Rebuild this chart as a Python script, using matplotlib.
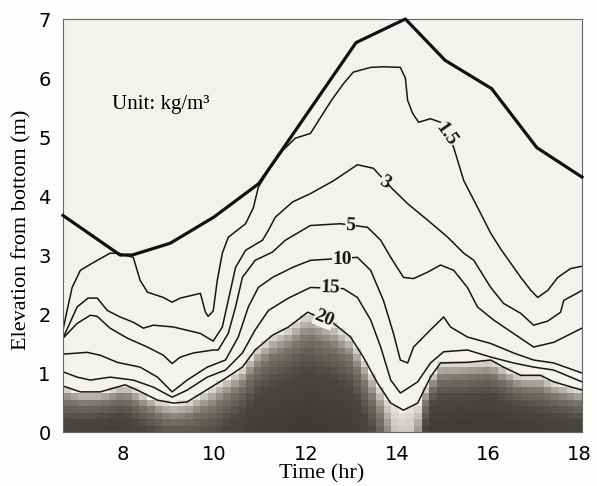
import numpy as np
import matplotlib.pyplot as plt
from matplotlib.colors import LinearSegmentedColormap

# water surface (thick line)
t_surf = [6.68, 7.93, 8.2, 9.03, 9.98, 10.97, 13.1, 14.18, 15.05, 16.07, 17.06, 18.05]
z_surf = [3.67, 3.0, 3.0, 3.2, 3.64, 4.21, 6.6, 7.0, 6.3, 5.82, 4.82, 4.32]

# iso-concentration lines (kg/m3)
t_1p5 = [6.68, 6.77, 6.88, 7.06, 7.34, 7.71, 7.89, 8.22, 8.37, 8.53, 8.88, 9.07, 9.25,
         9.69, 9.8, 9.86, 9.97, 10.06, 10.17, 10.3, 10.68, 10.85, 10.96, 11.18, 11.49,
         11.77, 12.1, 12.56, 12.82, 13.04, 13.42, 13.7, 14.07, 14.18, 14.23, 14.34, 14.47,
         14.73, 15.02, 15.24, 15.46, 15.76, 16.05, 16.27, 16.71, 16.93, 17.08, 17.3,
         17.52, 17.8, 18.05]
z_1p5 = [1.73, 2.06, 2.45, 2.74, 2.87, 3.03, 3.03, 2.96, 2.57, 2.37, 2.28, 2.2, 2.27,
         2.35, 2.03, 1.96, 2.05, 2.57, 3.03, 3.3, 3.53, 3.8, 4.15, 4.43, 4.77,
         4.98, 5.06, 5.62, 5.9, 6.1, 6.18, 6.19, 6.18, 6.0, 5.62, 5.4, 5.25,
         5.31, 5.23, 4.82, 4.26, 3.81, 3.37, 3.1, 2.62, 2.4, 2.28, 2.4,
         2.62, 2.77, 2.81]

t_3 = [6.68, 6.99, 7.23, 7.43, 7.65, 7.93, 8.22, 8.44, 8.66, 9.1, 9.69, 9.97, 10.17,
       10.3, 10.46, 10.68, 11.05, 11.18, 11.33, 11.71, 12.1, 12.61, 13.13, 13.48, 13.86,
       14.23, 14.67, 15.11, 15.46, 15.68, 16.05, 16.33, 16.71, 16.99, 17.3, 17.58,
       17.65, 18.05]
z_3 = [1.59, 2.12, 2.27, 2.27, 2.06, 1.95, 1.86, 1.76, 1.81, 1.78, 1.67, 1.54, 1.78,
       2.23, 2.79, 3.08, 3.25, 3.42, 3.64, 3.9, 4.04, 4.26, 4.53, 4.47, 4.15,
       3.87, 3.59, 3.3, 3.03, 2.91, 2.45, 2.18, 2.01, 1.81, 1.88, 2.03,
       2.23, 2.4]

t_5 = [6.68, 6.99, 7.28, 7.43, 7.71, 8.09, 8.53, 8.88, 9.07, 9.25, 9.54, 9.97, 10.08,
       10.3, 10.46, 10.61, 10.89, 11.27, 11.55, 12.1, 12.76, 13.35, 13.64, 13.86, 14.14,
       14.36, 14.67, 14.95, 15.24, 15.54, 15.76, 16.11, 16.55, 16.99, 17.43, 18.05]
z_5 = [1.59, 1.84, 1.98, 1.96, 1.76, 1.59, 1.44, 1.3, 1.16, 1.27, 1.34, 1.39, 1.39,
       1.67, 2.12, 2.62, 2.91, 3.05, 3.25, 3.5, 3.53, 3.47, 3.25, 2.96, 2.62,
       2.6, 2.71, 2.83, 2.74, 2.45, 2.12, 1.9, 1.67, 1.44, 1.52, 1.76]

t_10 = [6.68, 7.21, 7.5, 7.87, 8.37, 8.75, 9.07, 9.4, 9.84, 10.24, 10.52, 10.74, 10.96,
        11.27, 11.71, 12.1, 13.13, 13.42, 13.7, 13.92, 14.07, 14.23, 14.36, 14.73, 15.02,
        15.17, 15.54, 16.05, 16.55, 16.99, 17.43, 18.05]
z_10 = [1.32, 1.35, 1.3, 1.18, 1.1, 0.93, 0.68, 0.88, 1.1, 1.22, 1.61, 2.12, 2.45,
        2.62, 2.79, 2.91, 2.96, 2.74, 2.23, 1.67, 1.22, 1.17, 1.44, 1.73, 1.95,
        1.78, 1.61, 1.5, 1.34, 1.22, 1.17, 1.0]

t_15 = [6.68, 6.99, 7.28, 7.71, 8.22, 8.66, 9.07, 9.4, 9.84, 10.24, 10.61, 10.89, 11.18,
        11.62, 12.1, 12.82, 13.13, 13.42, 13.64, 13.86, 14.07, 14.45, 14.73, 15.02,
        15.54, 16.05, 16.55, 16.99, 17.43, 18.05]
z_15 = [1.02, 0.93, 0.88, 0.93, 0.88, 0.76, 0.59, 0.71, 0.93, 1.05, 1.34, 1.73, 2.06,
        2.27, 2.45, 2.43, 2.28, 1.9, 1.44, 0.88, 0.66, 0.85, 1.17, 1.36,
        1.39, 1.27, 1.17, 1.1, 1.05, 0.85]

t_20 = [6.68, 7.06, 7.5, 8.04, 8.31, 8.75, 9.1, 9.4, 9.8, 10.24, 10.61, 10.89, 11.27,
        11.62, 12.04, 12.61, 12.98, 13.26, 13.57, 13.86, 14.14, 14.45, 14.73, 14.95,
        15.54, 16.05, 16.33, 16.71, 17.14, 17.43, 18.05]
z_20 = [0.78, 0.68, 0.68, 0.8, 0.71, 0.54, 0.49, 0.51, 0.7, 0.91, 1.1, 1.39, 1.64,
        1.78, 2.03, 1.84, 1.61, 1.27, 0.83, 0.49, 0.37, 0.49, 0.93, 1.17,
        1.18, 1.22, 1.1, 0.96, 0.96, 0.85, 0.71]

# estimated concentration at the bed (drives the grey shading)
t_bed = [6.68, 8.0, 9.0, 10.0, 11.0, 12.0, 13.0, 13.5, 14.0, 14.4, 14.7, 16.0, 17.0, 18.05]
c_bed = [44, 46, 38, 40, 48, 50, 48, 40, 26, 27, 48, 50, 46, 44]

contours = [(t_1p5, z_1p5), (t_3, z_3), (t_5, z_5), (t_10, z_10), (t_15, z_15), (t_20, z_20)]

paper = '#f4f2ee'
serif = 'Liberation Serif'

fig = plt.figure(figsize=(5.97, 4.86), dpi=100, facecolor='#fcfcfb')
ax = fig.add_axes([63/597, 54/486, 519/597, 413/486])
ax.set_facecolor(paper)

# grey shading of high concentration near the bed
t_edges = np.linspace(6.68, 18.05, 69)
z_edges = np.linspace(0, 2.2, 21)
tc = 0.5*(t_edges[1:] + t_edges[:-1])
zc = 0.5*(z_edges[1:] + z_edges[:-1])
TT, ZZ = np.meshgrid(tc, zc)
z20c = np.interp(TT, t_20, z_20)
cb = np.interp(TT, t_bed, c_bed)
frac = np.clip(1 - ZZ/z20c, 0, 1)
C = np.where(ZZ < z20c, 20 + (cb - 20)*np.sqrt(frac), np.nan)
cmap = LinearSegmentedColormap.from_list('scan', [paper, '#cfcbc5', '#7a746e', '#4a4540', '#3f3a36'])
ax.pcolormesh(t_edges, z_edges, np.ma.masked_invalid(C), cmap=cmap, vmin=19, vmax=48,
              shading='flat')

for t, z in contours:
    ax.plot(t, z, color='#161616', lw=1.1)
ax.plot(t_surf, z_surf, color='#111111', lw=2.3, clip_on=False, zorder=5)

lab = dict(fontsize=14, fontweight='bold', family=serif, ha='center', va='center',
           color='#161616', zorder=6,
           bbox=dict(boxstyle='square,pad=0.02', fc=paper, ec='none'))
ax.text(15.08, 5.05, '1.5', rotation=-55, **lab)
ax.text(13.72, 4.22, '3', rotation=-30, **lab)
ax.text(12.98, 3.5, '5', rotation=-3, **lab)
ax.text(12.8, 2.93, '10', **lab)
ax.text(12.54, 2.45, '15', rotation=-2, **lab)
ax.text(12.4, 1.92, '20', rotation=-22, **lab)

ax.text(7.76, 5.55, 'Unit: kg/m³', fontsize=15, family=serif, va='center', ha='left')

ax.set_xlim(6.68, 18.05)
ax.set_ylim(0, 7)
ax.set_xticks([8, 10, 12, 14, 16, 18])
ax.set_yticks(range(8))
ax.tick_params(length=0, labelsize=14, pad=9)
for lbl in ax.get_xticklabels() + ax.get_yticklabels():
    lbl.set_family('DejaVu Sans')
for s in ax.spines.values():
    s.set_color('#666666')
    s.set_linewidth(0.8)

fig.text(322/597, (486-474)/486, 'Time (hr)', fontsize=16, family=serif, ha='center', va='center')
fig.text(22/597, (486-230)/486, 'Elevation from bottom (m)', fontsize=16, family=serif,
         rotation=90, ha='center', va='center')

fig.savefig('out.png', dpi=100, facecolor=fig.get_facecolor())
